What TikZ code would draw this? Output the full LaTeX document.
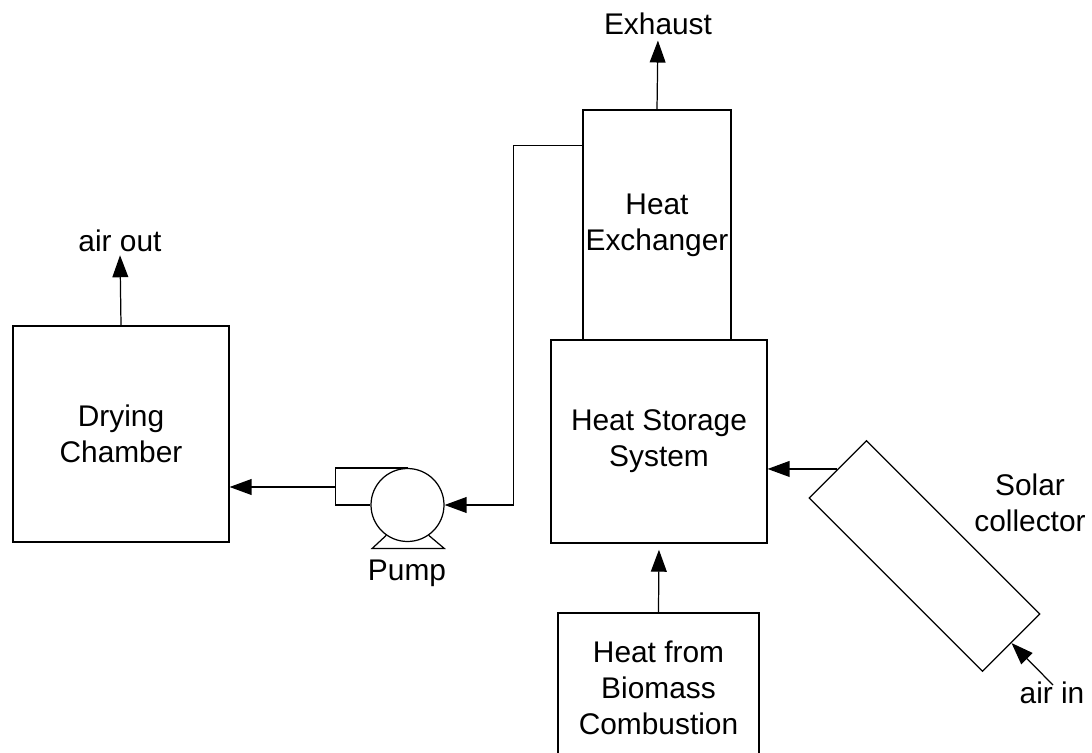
\documentclass[tikz,border=0pt]{standalone}
\usepackage{fontspec}
\setmainfont{Liberation Sans}
\usetikzlibrary{arrows.meta, positioning, calc}

\begin{document}
\begin{tikzpicture}[
    x=0.02cm, y=-0.02cm,
    every node/.style={font=\fontsize{17}{20.5}\selectfont, inner sep=0pt},
    unit/.style={draw, line width=0.7pt, align=center},
    pipe/.style={line width=0.7pt},
    arrow/.style={pipe, -{Triangle[length=12.5pt, width=9pt]}},
    tag/.style={align=center},
]
  \useasboundingbox (0,0) rectangle (1092,753);

  \node[unit, minimum width=4.32cm, minimum height=4.32cm] (dry)   at (121,434)   {Drying\\Chamber};
  \node[unit, minimum width=2.96cm, minimum height=4.6cm]  (hx)    at (657,225)   {Heat\\Exchanger};
  \node[unit, minimum width=4.32cm, minimum height=4.06cm] (store) at (659,441.5) {Heat Storage\\System};
  \node[unit, minimum width=4.02cm, minimum height=3cm]    (bio)   at (658.5,688) {Heat from\\Biomass\\Combustion};
  \node[unit, minimum width=4.9cm, minimum height=1.62cm, rotate=-45] (solar) at (924.5,556) {};
  \node[draw, circle, line width=0.7pt, minimum size=1.46cm] (pump) at (407.5,505) {};

  % pump outlet and base
  \draw[pipe] (pump.north) -- ++(-72,0) |- (pump.west);
  \draw[pipe] (pump.-125) -- ++(-14,13) -- ++(72,0) -- (pump.-55);

  \node[tag, anchor=base] (airout)  at (120,252) {air out};
  \node[tag, anchor=base] (exhaust) at (658,35)  {Exhaust};
  \node[tag] (pumplbl) at (407,573.5) {Pump};
  \node[tag] (solarlbl) at (1030,503) {Solar\\collector};
  \node[tag, anchor=base] (airin) at (1052,703) {air in};

  \coordinate (hxport)  at ($(hx.north west)+(0,36)$);
  \coordinate (pumpout) at (335.5,487);
  \coordinate (airsrc)  at (1053,685);

  \draw[arrow, shorten >=1.5pt] (dry.north) -- (airout.south);
  \draw[arrow, shorten >=2.8pt] (hx.north) -- (exhaust.south);
  \draw[arrow] (hxport) -- ++(-69,0) |- (pump.east);
  \draw[arrow] (pumpout) -- (dry.east |- pumpout);
  \draw[arrow] (solar.west) -- (store.east |- solar.west);
  \draw[arrow, shorten >=3.5pt] (bio.north) -- (store.south);
  \draw[arrow] (airsrc) -- (solar.east);
\end{tikzpicture}
\end{document}
